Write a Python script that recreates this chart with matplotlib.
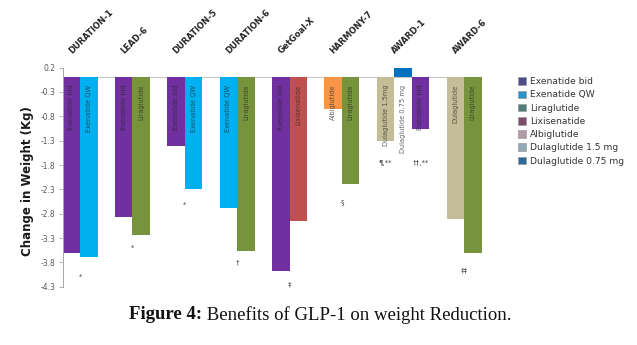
import numpy as np
import matplotlib
matplotlib.use('Agg')
import matplotlib.pyplot as plt
from matplotlib.patches import Patch

# trial -> bars (drug label, weight change in kg)
studies = ['DURATION-1', 'LEAD-6', 'DURATION-5', 'DURATION-6',
           'GetGoal-X', 'HARMONY-7', 'AWARD-1', 'AWARD-6']
study_drugs = [
    ['Exenatide bid', 'Exenatide QW'],
    ['Exenatide bid', 'Liraglutide'],
    ['Exenatide bid', 'Exenatide QW'],
    ['Exenatide QW', 'Liraglutide'],
    ['Exenatide bid', 'Lixisenatide'],
    ['Albiglutide', 'Liraglutide'],
    ['Dulaglutide 1.5mg', 'Dulaglutide 0.75 mg', 'Exenatide bid'],
    ['Dulaglutide', 'Liraglutide'],
]
study_values = [
    [-3.6, -3.7],
    [-2.87, -3.24],
    [-1.4, -2.3],
    [-2.68, -3.57],
    [-3.98, -2.96],
    [-0.64, -2.19],
    [-1.30, 0.20, -1.07],
    [-2.90, -3.61],
]
# significance marks: (study index, symbol, y in kg)
study_notes = [
    (0, '*', -4.09), (1, '*', -3.51), (2, '*', -2.61), (3, '\u2020', -3.80),
    (4, '\u2021', -4.26), (5, '\u00a7', -2.56), (7, '\u2021\u2021', -3.97),
]
award1_notes = [(0, '\u00b6,**', -1.76), (2, '\u2020\u2020,**', -1.76)]

legend_labels = ['Exenatide bid', 'Exenatide QW', 'Liraglutide', 'Lixisenatide',
                 'Albiglutide', 'Dulaglutide 1.5 mg', 'Dulaglutide 0.75 mg']
legend_colors = ['#4f4c8c', '#2b93c9', '#4f7d7a', '#7d4c6c',
                 '#b09aa6', '#8fa9b6', '#2d6a9c']

bar_colors = {
    'Exenatide bid': '#7030a0',
    'Exenatide QW': '#00b0f0',
    'Liraglutide': '#77933c',
    'Lixisenatide': '#c0504d',
    'Albiglutide': '#f79646',
    'Dulaglutide 1.5mg': '#c4bd97',
    'Dulaglutide': '#c4bd97',
    'Dulaglutide 0.75 mg': '#0070c0',
}

fig = plt.figure(figsize=(6.37, 3.45), dpi=100)
ax = fig.add_axes([0.0984, 0.169, 0.6576, 0.6349])

# one slot per bar, one empty slot between trials
pos = 0
centers = []
bar_x = []
for drugs, vals in zip(study_drugs, study_values):
    xs = pos + 0.5 + np.arange(len(drugs))
    bar_x.append(xs)
    centers.append(xs.mean())
    ax.bar(xs, vals, width=1.0, color=[bar_colors[d] for d in drugs],
           edgecolor='none', zorder=2)
    for x, d in zip(xs, drugs):
        ax.text(x, -0.15, d, rotation=90, ha='center', va='top',
                fontsize=4.8, color='#262626', alpha=0.7, zorder=3)
    pos += len(drugs) + 1

ax.axhline(0, color='#c8c8c8', lw=0.8, zorder=1)

for i, sym, y in study_notes:
    ax.text(centers[i], y, sym, ha='center', va='center', fontsize=5, color='#404040')
for j, sym, y in award1_notes:
    ax.text(bar_x[6][j], y, sym, ha='center', va='center', fontsize=5, color='#404040')

for c, name in zip(centers, studies):
    ax.annotate(name, xy=(c, 1.0), xycoords=('data', 'axes fraction'),
                xytext=(-5, 9), textcoords='offset points',
                rotation=45, rotation_mode='anchor', ha='left', va='bottom',
                fontsize=6, fontweight='semibold', color='#262626')

ax.set_xlim(0, 24)
ax.set_ylim(-4.3, 0.2)
yt = np.round(np.arange(0.2, -4.31, -0.5), 1)
ax.set_yticks(yt)
ax.set_yticklabels(['%.1f' % v for v in yt], fontsize=5.5, color='#595959')
ax.tick_params(axis='y', length=3, width=0.6, color='#a6a6a6', pad=2)
ax.set_xticks([])
for s in ['top', 'right', 'bottom']:
    ax.spines[s].set_visible(False)
ax.spines['left'].set_color('#a6a6a6')
ax.spines['left'].set_linewidth(0.7)

ax.set_ylabel('Change in Weight (Kg)', fontsize=8.5, fontweight='bold',
              color='#1a1a1a')
ax.yaxis.set_label_coords(-0.068, 0.48)

handles = [Patch(facecolor=c, edgecolor='#9a9a9a', linewidth=0.5) for c in legend_colors]
fig.legend(handles, legend_labels, loc='upper left', bbox_to_anchor=(0.8, 0.8),
           frameon=False, fontsize=6.6, handlelength=0.9, handleheight=0.9,
           handletextpad=0.4, labelspacing=0.46, labelcolor='#333333')

# caption: bold prefix + plain text, centred as one line
cap_bold = fig.text(0, 0.088, 'Figure 4:', fontsize=13.5, fontweight='bold',
                    family='Liberation Serif', ha='left', va='center', color='#111111')
cap_rest = fig.text(0, 0.088, ' Benefits of GLP-1 on weight Reduction.', fontsize=13.5,
                    family='Liberation Serif', ha='left', va='center', color='#111111')
r = fig.canvas.get_renderer()
wb = cap_bold.get_window_extent(r).width
wr = cap_rest.get_window_extent(r).width
x0 = (fig.bbox.width * 0.503 - (wb + wr) / 2)
cap_bold.set_x(x0 / fig.bbox.width)
cap_rest.set_x((x0 + wb) / fig.bbox.width)

fig.savefig('out.png', dpi=100)
